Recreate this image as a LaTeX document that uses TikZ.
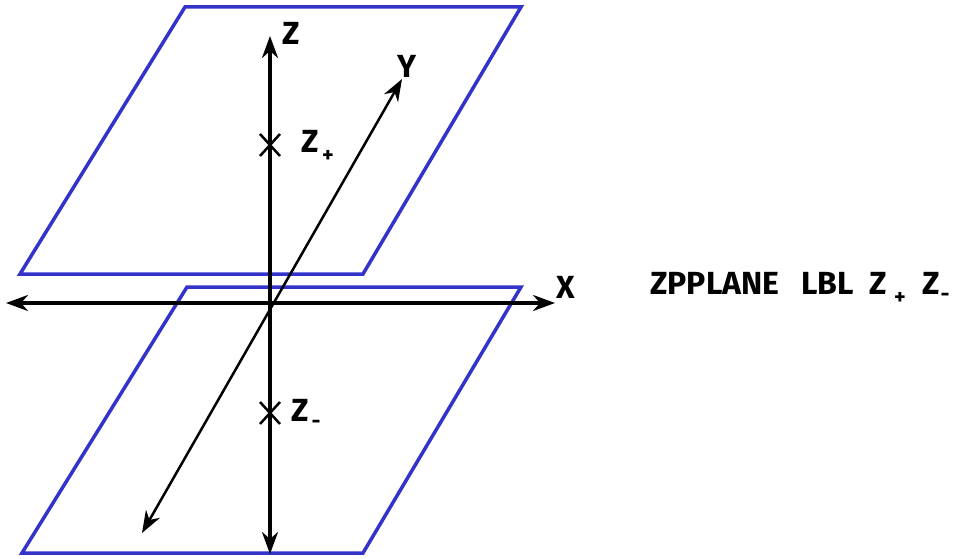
\documentclass[tikz,border=0pt]{standalone}
\usepackage{fontspec}
\setmainfont{Fira Sans}
\usetikzlibrary{arrows.meta,calc}
\definecolor{planeblue}{RGB}{51,51,204}
\tikzset{
  plane/.style={draw=planeblue, line width=3.5pt, line join=miter},
  axis/.style={draw=black, line width=3.4pt, {Stealth[length=22pt,width=16pt,inset=7pt]}-{Stealth[length=22pt,width=16pt,inset=7pt]}},
  yaxis/.style={draw=black, line width=2.5pt, {Stealth[length=22pt,width=16pt,inset=7pt]}-{Stealth[length=22pt,width=16pt,inset=7pt]}},
  crossline/.style={draw=black, line width=2.5pt},
  lbl/.style={font=\bfseries\fontsize{32}{32}\selectfont, inner sep=0pt},
  sub/.style={font=\bfseries\fontsize{22}{22}\selectfont, inner sep=0pt}
}
\begin{document}
\begin{tikzpicture}[x=1pt,y=-1pt]
\useasboundingbox (0,0) rectangle (954,559);
% planes
\draw[plane] (20,274) -- (363,274) -- (521,7) -- (185,7) -- cycle;
\draw[plane] (22,553) -- (363,553) -- (521,287) -- (187,287) -- cycle;
% coordinates
\coordinate (xl) at (6,303);
\coordinate (xr) at (555,303);
\coordinate (zt) at (270,36);
\coordinate (zb) at (270,554);
\coordinate (yt) at (402,79);
\coordinate (yb) at (142,533);
\draw[axis] (xl) -- (xr);
\draw[axis] (zb) -- (zt);
\draw[yaxis] (yb) -- (yt);
% crosses
\coordinate (zp) at (270,145);
\coordinate (zm) at (270,413);
\draw[crossline] ($(zp)+(-10,-11)$) -- ($(zp)+(10,11)$);
\draw[crossline] ($(zp)+(-10,11)$) -- ($(zp)+(10,-11)$);
\draw[crossline] ($(zm)+(-10,-11)$) -- ($(zm)+(10,11)$);
\draw[crossline] ($(zm)+(-10,11)$) -- ($(zm)+(10,-11)$);
% labels
\node[lbl] (lz) at (291,33) {Z};
\node[lbl] (ly) at (407,66) {Y};
\node[lbl] (lx) at (566,287) {X};
\node[lbl] (lzp) at (310,141) {Z};
\node[sub] (lzps) at (328,156) {+};
\node[lbl] (lzm) at (300,410) {Z};
\node[sub] (lzms) at (316,424) {-};
% right text
\node[lbl, anchor=west] (t1) at (650,283) {ZPPLANE};
\node[lbl, anchor=west] (t2) at (801,283) {LBL};
\node[lbl] (t3) at (878,283) {Z};
\node[sub] (t3s) at (900,298) {+};
\node[lbl] (t4) at (931,283) {Z};
\node[sub] (t4s) at (945,297) {-};
\end{tikzpicture}
\end{document}
